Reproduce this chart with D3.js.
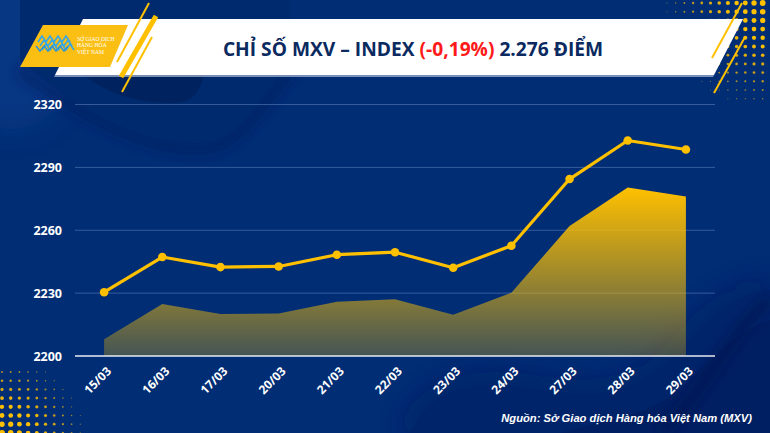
<!DOCTYPE html>
<html><head><meta charset="utf-8">
<script src="https://cdn.jsdelivr.net/npm/d3@7/dist/d3.min.js"></script>
<style>
html,body{margin:0;padding:0;background:#002d73;}
svg{display:block;}
</style></head>
<body>
<svg id="c" width="770" height="433"></svg>
<script>
// ---- data ----
const dates = ["15/03","16/03","17/03","20/03","21/03","22/03","23/03","24/03","27/03","28/03","29/03"];
const indexValues = [2208.0, 2224.8, 2220.0, 2220.3, 2225.9, 2227.1, 2219.7, 2230.2, 2262.0, 2280.4, 2276.1];
const yTicks = [2200, 2230, 2260, 2290, 2320];
const titleParts = [
  {t:"CHỈ SỐ MXV – INDEX ", c:"#0b2a5f"},
  {t:"(-0,19%)", c:"#ff1a1a"},
  {t:" 2.276 ĐIỂM", c:"#0b2a5f"}
];
const logoLines = ["SỞ GIAO DỊCH","HÀNG HÓA","VIỆT NAM"];
const sourceText = "Nguồn: Sở Giao dịch Hàng hóa Việt Nam (MXV)";

const W=770,H=433;
const svg=d3.select("#c");
const defs=svg.append("defs");

const blur=defs.append("filter").attr("id","blur").attr("x","-50%").attr("y","-50%").attr("width","200%").attr("height","200%");
blur.append("feGaussianBlur").attr("stdDeviation",6);
const blur2=defs.append("filter").attr("id","blur2").attr("x","-50%").attr("y","-50%").attr("width","200%").attr("height","200%");
blur2.append("feGaussianBlur").attr("stdDeviation",14);

// ---- background ----
svg.append("rect").attr("width",W).attr("height",H).attr("fill","#002d74");
svg.append("ellipse").attr("cx",10).attr("cy",40).attr("rx",70).attr("ry",90).attr("fill","#0a3d8c").attr("opacity",0.6).attr("filter","url(#blur2)");
const bgG=svg.append("g");
bgG.append("path").attr("d","M20,70 C90,120 150,150 200,148 C240,146 255,110 290,70")
  .attr("fill","none").attr("stroke","#001a5e").attr("stroke-width",10).attr("opacity",0.7).attr("filter","url(#blur)");
bgG.append("path").attr("d","M20,60 C90,120 150,145 200,143 C240,141 255,105 290,60 L290,0 L20,0 Z")
  .attr("fill","#002a6e");
bgG.append("path").attr("d","M80,72 C110,98 150,104 175,103 C195,102 200,90 205,72 Z")
  .attr("fill","#00235f");
bgG.append("path").attr("d","M410,433 C430,390 470,378 540,390 C600,400 640,395 690,340 C720,305 745,292 770,290")
  .attr("fill","none").attr("stroke","#001658").attr("stroke-width",14).attr("opacity",0.8).attr("filter","url(#blur2)");
bgG.append("path").attr("d","M410,433 C430,390 470,378 540,390 C600,400 640,395 690,340 C720,305 745,292 770,290 L770,433 Z")
  .attr("fill","#00246a");
bgG.append("path").attr("d","M560,433 C600,420 650,420 690,380 C720,350 740,330 770,320 L770,433 Z")
  .attr("fill","#001e60").attr("opacity",0.8);
bgG.append("path").attr("d","M660,433 C700,400 730,330 770,300")
  .attr("fill","none").attr("stroke","#001250").attr("stroke-width",12).attr("opacity",0.6).attr("filter","url(#blur)");

// halftone dots (decoration)
const dots=svg.append("g");
function halftone(x0,x1,y0,y1,cx,cy,maxR,reach,step){
  for(let x=x0;x<=x1;x+=step){
    for(let y=y0;y<=y1;y+=step){
      const d=Math.hypot(x-cx,y-cy);
      const r=maxR*(1-d/reach);
      if(r>0.45) dots.append("circle").attr("cx",x).attr("cy",y).attr("r",r).attr("fill","#ffc000").attr("opacity",Math.min(1,0.35+r/maxR));
    }
  }
}
halftone(667,770,3,100,775,0,3.2,130,8.7);
halftone(2,100,372,433,0,440,3.2,100,8.7);

// ---- header ----
const hdr=svg.append("g");
hdr.append("path").attr("d","M83,19 L743,19 L714,75 L55,75 Z").attr("fill","#ffffff");
hdr.append("path").attr("d","M55,75 L714,75 L713,77 L54,77 Z").attr("fill","#c8d3e8").attr("opacity",0.6);
hdr.append("path").attr("d","M43,25 L128,25 L110,67 L20,67 Z").attr("fill","#fbbf14");
const ys=[[149,3,117,62,2],[156,16,121,77,5],[152,37,122,92,2],[742,3,712,58,2],[745,37,714,93,2]];
hdr.selectAll("line.ys").data(ys).enter().append("line")
  .attr("x1",d=>d[0]).attr("y1",d=>d[1]).attr("x2",d=>d[2]).attr("y2",d=>d[3])
  .attr("stroke","#ffc000").attr("stroke-width",d=>d[4]);
const lg=hdr.append("g").attr("fill","none").attr("stroke","#3aa8e0").attr("stroke-width",1.6);
for(let i=0;i<3;i++){
  lg.append("path").attr("d",`M${38+i*2},46 l4,-6 l4,6 l4,-6 l4,6 l4,-6 l4,6 l4,-6 l4,6`)
    .attr("transform",`translate(0,${(i-1)*4})`);
}
lg.append("path").attr("d","M36,46 l4,5 l4,-5 l4,5 l4,-5 l4,5 l4,-5 l4,5 l4,-5").attr("stroke","#2f95d4");
hdr.selectAll("text.logo").data(logoLines).enter().append("text")
  .attr("x",77).attr("y",(d,i)=>41+i*6.3)
  .attr("font-family","Liberation Serif, serif").attr("font-size",5.6).attr("fill","#ffffff").text(d=>d);

// title
const title=svg.append("text").attr("x",413).attr("y",56).attr("text-anchor","middle")
  .attr("font-family","'Open Sans', 'Noto Sans', sans-serif").attr("font-weight",700).attr("font-size",19.2);
title.selectAll("tspan").data(titleParts).enter().append("tspan").attr("fill",d=>d.c).text(d=>d.t);

// ---- chart ----
const x=d3.scaleBand().domain(dates).range([75,715]).padding(0);
const cx=d=>x(d)+x.bandwidth()/2;
const y=d3.scaleLinear().domain([2200,2320]).range([356,104.5]);
const lineLift=47;

const g=svg.append("g");
g.selectAll("line.grid").data(yTicks.slice(1)).enter().append("line")
  .attr("x1",75).attr("x2",715).attr("y1",d=>y(d)).attr("y2",d=>y(d))
  .attr("stroke","#5a7bb8").attr("stroke-opacity",0.6).attr("stroke-width",1);

const grad=defs.append("linearGradient").attr("id","ag").attr("gradientUnits","userSpaceOnUse")
  .attr("x1",0).attr("x2",0).attr("y1",y(d3.max(indexValues))).attr("y2",y(2200));
grad.append("stop").attr("offset",0).attr("stop-color","#ffc000").attr("stop-opacity",1);
grad.append("stop").attr("offset",1).attr("stop-color","#ffc000").attr("stop-opacity",0.27);

const pts=dates.map((d,i)=>({d,v:indexValues[i]}));
g.append("path").datum(pts)
  .attr("d",d3.area().x(p=>cx(p.d)).y0(y(2200)).y1(p=>y(p.v)))
  .attr("fill","url(#ag)");

g.append("line").attr("x1",75).attr("x2",715).attr("y1",y(2200)).attr("y2",y(2200))
  .attr("stroke","#e8ecf5").attr("stroke-width",1.6);

const lg2=g.append("g").attr("transform",`translate(0,${-lineLift})`);
lg2.append("path").datum(pts)
  .attr("d",d3.line().x(p=>cx(p.d)).y(p=>y(p.v)))
  .attr("fill","none").attr("stroke","#ffc000").attr("stroke-width",3.2).attr("stroke-linejoin","round");
lg2.selectAll("circle").data(pts).enter().append("circle")
  .attr("cx",p=>cx(p.d)).attr("cy",p=>y(p.v)).attr("r",4.3).attr("fill","#ffc000");

g.selectAll("text.yl").data(yTicks).enter().append("text")
  .attr("x",62).attr("y",d=>y(d)).attr("dy","0.36em").attr("text-anchor","end")
  .attr("font-family","'Open Sans', sans-serif").attr("font-weight",700).attr("font-size",12.5)
  .attr("fill","#ffffff").text(d=>d);

g.selectAll("text.xl").data(dates).enter().append("text")
  .attr("transform",d=>`translate(${cx(d)+5},${369}) rotate(-45)`)
  .attr("text-anchor","end").attr("dy","0.35em")
  .attr("font-family","'Open Sans', sans-serif").attr("font-weight",700).attr("font-size",12)
  .attr("fill","#ffffff").text(d=>d);

svg.append("text").attr("x",752).attr("y",422).attr("text-anchor","end")
  .attr("font-family","'Liberation Sans', Arial, sans-serif").attr("font-weight",700).attr("font-style","italic")
  .attr("font-size",11.2).attr("fill","#ffffff").text(sourceText);
</script>
</body></html>
